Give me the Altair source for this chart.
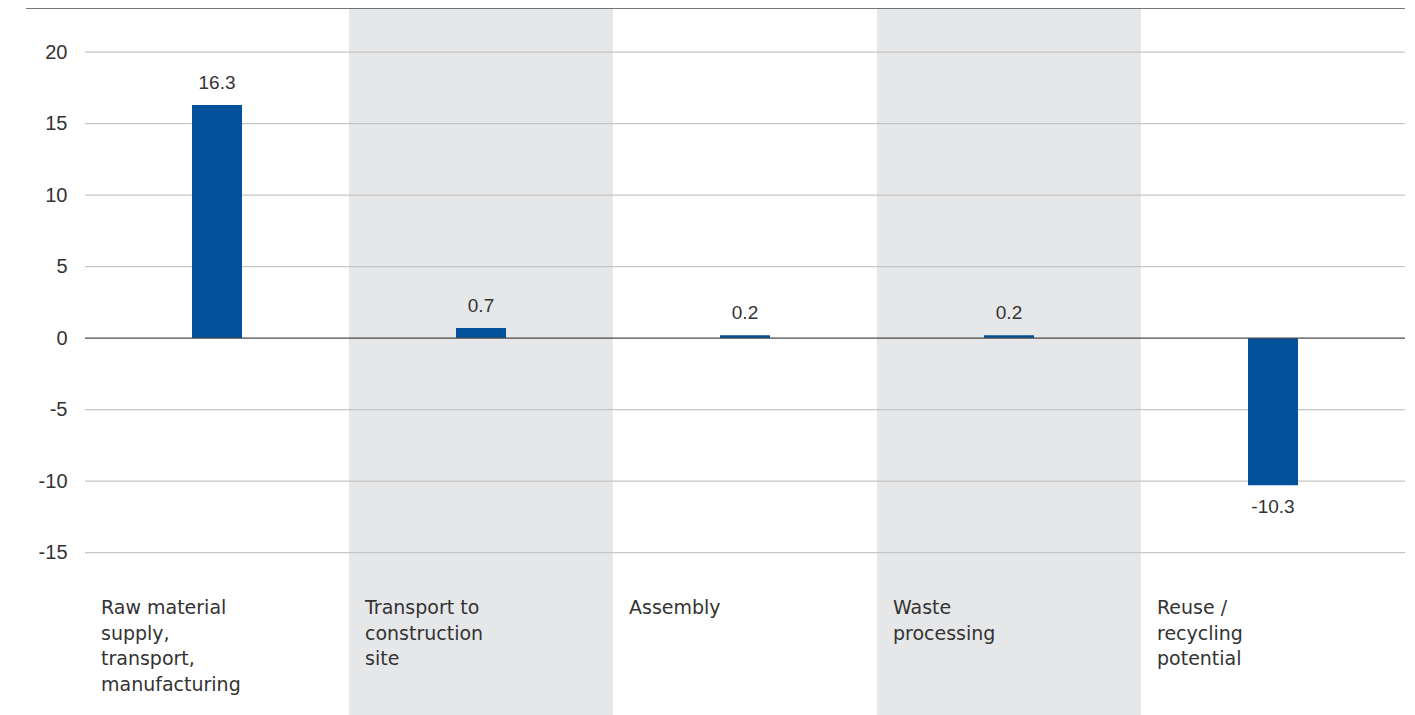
import altair as alt
import pandas as pd

categories = [
    "Raw material\nsupply,\ntransport,\nmanufacturing",
    "Transport to\nconstruction\nsite",
    "Assembly",
    "Waste\nprocessing",
    "Reuse /\nrecycling\npotential",
]
values = [16.3, 0.7, 0.2, 0.2, -10.3]
value_labels = ["16.3", "0.7", "0.2", "0.2", "-10.3"]
y_ticks = [-15, -10, -5, 0, 5, 10, 15, 20]

W, H = 1320, 707
Y_DOMAIN = [-26.36, 23.08]
CAT_FONT = "DejaVu Sans"
NUM_FONT = "Liberation Sans"
TEXT_COLOR = "#333333"

df = pd.DataFrame({
    "cat": categories,
    "idx": list(range(len(categories))),
    "value": values,
    "label": value_labels,
})
grid_df = pd.DataFrame({"tick": [t for t in y_ticks if t != 0]})
zero_df = pd.DataFrame({"tick": [0]})

x_enc = alt.X("cat:N", sort=categories, axis=None,
              scale=alt.Scale(paddingInner=0, paddingOuter=0))
y_scale = alt.Scale(domain=Y_DOMAIN, nice=False, zero=False)

base = alt.Chart(df)

bands = base.transform_filter("datum.idx % 2 == 1").mark_rect(
    color="#E6E7E9"
).encode(x=x_enc, y=alt.value(0), y2=alt.value(H))

axis_layer = alt.Chart(grid_df).mark_rule(opacity=0).encode(
    y=alt.Y("tick:Q", scale=y_scale, title=None,
            axis=alt.Axis(values=y_ticks, grid=False, domain=False, ticks=False,
                          labelPadding=18, labelFontSize=20, labelFont=NUM_FONT,
                          labelColor=TEXT_COLOR,
                          labelExpr="toString(datum.value)"))
)

grid = alt.Chart(grid_df).mark_rule(color="#C6C6C6", strokeWidth=1.2).encode(
    y=alt.Y("tick:Q", scale=y_scale), x=alt.value(0), x2=alt.value(W)
)

bars = base.mark_bar(size=50, color="#02529B").encode(
    x=x_enc, y=alt.Y("value:Q", scale=y_scale)
)

zero = alt.Chart(zero_df).mark_rule(color="#4A4A4A", strokeWidth=1.2).encode(
    y=alt.Y("tick:Q", scale=y_scale), x=alt.value(0), x2=alt.value(W)
)

top_line = alt.Chart(zero_df).mark_rule(color="#4A4A4A", strokeWidth=1.5).encode(
    y=alt.value(0), x=alt.value(-59), x2=alt.value(W)
)

pos_labels = base.transform_filter("datum.value >= 0").mark_text(
    dy=-22, fontSize=19, font=NUM_FONT, color=TEXT_COLOR, baseline="middle"
).encode(x=x_enc, y=alt.Y("value:Q", scale=y_scale), text="label:N")

neg_labels = base.transform_filter("datum.value < 0").mark_text(
    dy=22, fontSize=19, font=NUM_FONT, color=TEXT_COLOR, baseline="middle"
).encode(x=x_enc, y=alt.Y("value:Q", scale=y_scale), text="label:N")

cat_labels = base.mark_text(
    align="left", baseline="top", dx=16, fontSize=19, font=CAT_FONT,
    color=TEXT_COLOR, lineBreak="\n", lineHeight=25.5
).encode(
    x=alt.X("cat:N", sort=categories, axis=None, bandPosition=0,
            scale=alt.Scale(paddingInner=0, paddingOuter=0)),
    y=alt.value(591),
    text="cat:N",
)

chart = alt.layer(
    bands, axis_layer, grid, bars, zero, top_line, pos_labels, neg_labels, cat_labels
).properties(
    width=W, height=H,
    autosize=alt.AutoSizeParams(type="none"),
    padding={"left": 77, "top": 0, "right": 2, "bottom": 0},
).configure(background="white").configure_view(stroke=None)

chart.save("out.html", embed_options={"renderer": "svg", "actions": False})
